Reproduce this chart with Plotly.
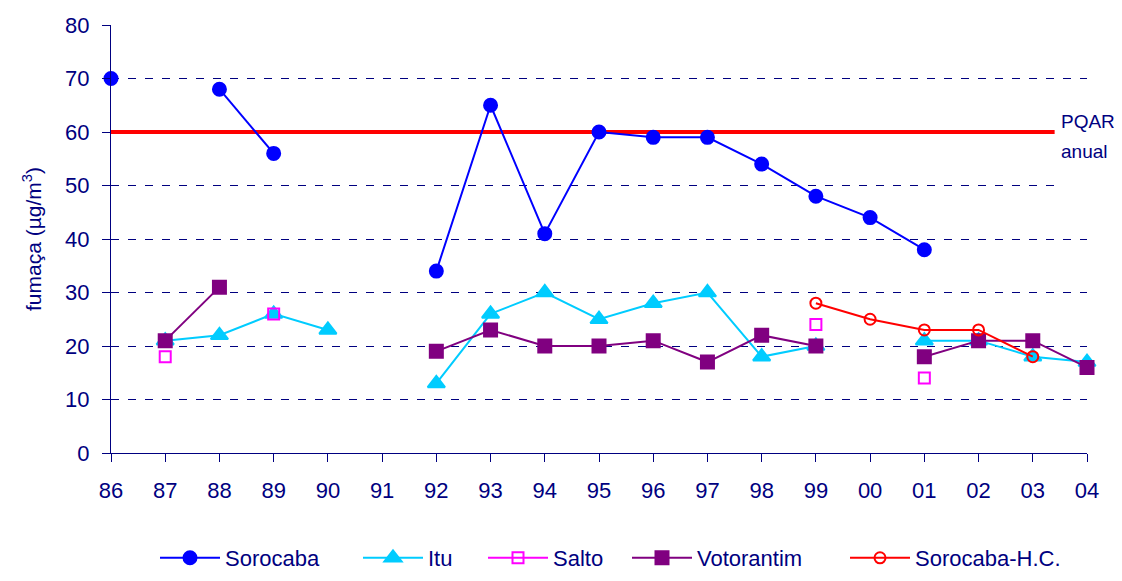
import plotly.graph_objs as go

years = ['86', '87', '88', '89', '90', '91', '92', '93', '94', '95',
         '96', '97', '98', '99', '00', '01', '02', '03', '04']

sorocaba = [70, None, 68, 56, None, None, 34, 65, 41, 60,
            59, 59, 54, 48, 44, 38, None, None, None]
itu = [None, 21, 22, 26, 23, None, 13, 26, 30, 25,
       28, 30, 18, 20, None, 21, 21, 18, 17]
salto = [None, 18, None, 26, None, None, None, None, None, None,
         None, None, None, 24, None, 14, None, None, None]
votorantim = [None, 21, 31, None, None, None, 19, 23, 20, 20,
              21, 17, 22, 20, None, 18, 21, 21, 16]
sorocaba_hc = [None, None, None, None, None, None, None, None, None, None,
               None, None, None, 28, 25, 23, 23, 18, None]

pqar = 60

NAVY = '#000080'
FONT = 'Liberation Sans, Arial, sans-serif'
# the page body adds an 8px margin on every side; keep the page from scrolling
W, H = 1114, 565


def serie(nome, y, cor, simbolo, tamanho, legenda):
    return go.Scatter(
        x=years,
        y=y,
        name=nome,
        legend=legenda,
        mode='lines+markers',
        line=dict(color=cor, width=2),
        marker=dict(symbol=simbolo, size=tamanho, color=cor,
                    line=dict(color=cor, width=2)),
        cliponaxis=False,
    )


data = [
    serie('Sorocaba', sorocaba, '#0000FF', 'circle', 13, 'legend'),
    serie('Itu', itu, '#00CCFF', 'triangle-up', 15, 'legend2'),
    serie('Salto', salto, '#FF00FF', 'square-open', 11, 'legend3'),
    serie('Votorantim', votorantim, '#800080', 'square', 13, 'legend4'),
    serie('Sorocaba-H.C.', sorocaba_hc, '#FF0000', 'circle-open', 11, 'legend5'),
]


def legenda(px):
    # one legend box per series, so the entries sit where the original has them
    return dict(
        xref='container', yref='container',
        x=(px - 8) / W, xanchor='left',
        y=1 - (558 - 8) / H, yanchor='middle',
        orientation='h',
        itemwidth=60,
        font=dict(size=22, color=NAVY),
        bgcolor='rgba(0,0,0,0)',
    )


layout = go.Layout(
    width=W,
    height=H,
    autosize=False,
    showlegend=True,
    paper_bgcolor='white',
    plot_bgcolor='white',
    font=dict(family=FONT, size=22, color=NAVY),
    margin=dict(l=103, r=35, t=17, b=120),
    xaxis=dict(
        type='category',
        range=[0, 18],
        automargin=False,
        showgrid=False,
        showline=True,
        linecolor=NAVY,
        linewidth=1,
        ticks='outside',
        ticklen=8,
        tickcolor=NAVY,
        ticklabelstandoff=10,
        tickfont=dict(size=22, color=NAVY),
    ),
    yaxis=dict(
        range=[0, 80],
        dtick=10,
        automargin=False,
        showgrid=False,
        # dashed lines on every level except the PQAR one, which the red line takes
        minor=dict(tickvals=[10, 20, 30, 40, 50, 70], showgrid=True,
                   gridcolor=NAVY, gridwidth=1, griddash='8px,9px', ticks=''),
        zeroline=False,
        showline=True,
        linecolor=NAVY,
        linewidth=1,
        ticks='outside',
        ticklen=8,
        tickcolor=NAVY,
        ticklabelstandoff=8,
        tickfont=dict(size=22, color=NAVY),
        title=dict(text='fumaça (µg/m<sup>3</sup>)', standoff=17,
                   font=dict(size=21, color=NAVY)),
    ),
    legend=legenda(155),
    legend2=legenda(358),
    legend3=legenda(483),
    legend4=legenda(627),
    legend5=legenda(845),
    shapes=[
        dict(type='line', xref='paper', yref='y', x0=0, x1=0.967,
             y0=pqar, y1=pqar, layer='between',
             line=dict(color='#FF0000', width=4)),
        dict(type='rect', xref='paper', yref='y', x0=0.967, x1=1.01,
             y0=48.5, y1=63, layer='above', fillcolor='white',
             line=dict(width=0)),
    ],
    annotations=[
        dict(text='PQAR', xref='paper', yref='y',
             x=0.971, y=61.9, xanchor='left', yanchor='middle',
             showarrow=False, font=dict(size=19, color=NAVY)),
        dict(text='anual', xref='paper', yref='y',
             x=0.971, y=56.3, xanchor='left', yanchor='middle',
             showarrow=False, font=dict(size=19, color=NAVY)),
    ],
)

fig = go.Figure(data=data, layout=layout)
fig.write_html("out.html")
